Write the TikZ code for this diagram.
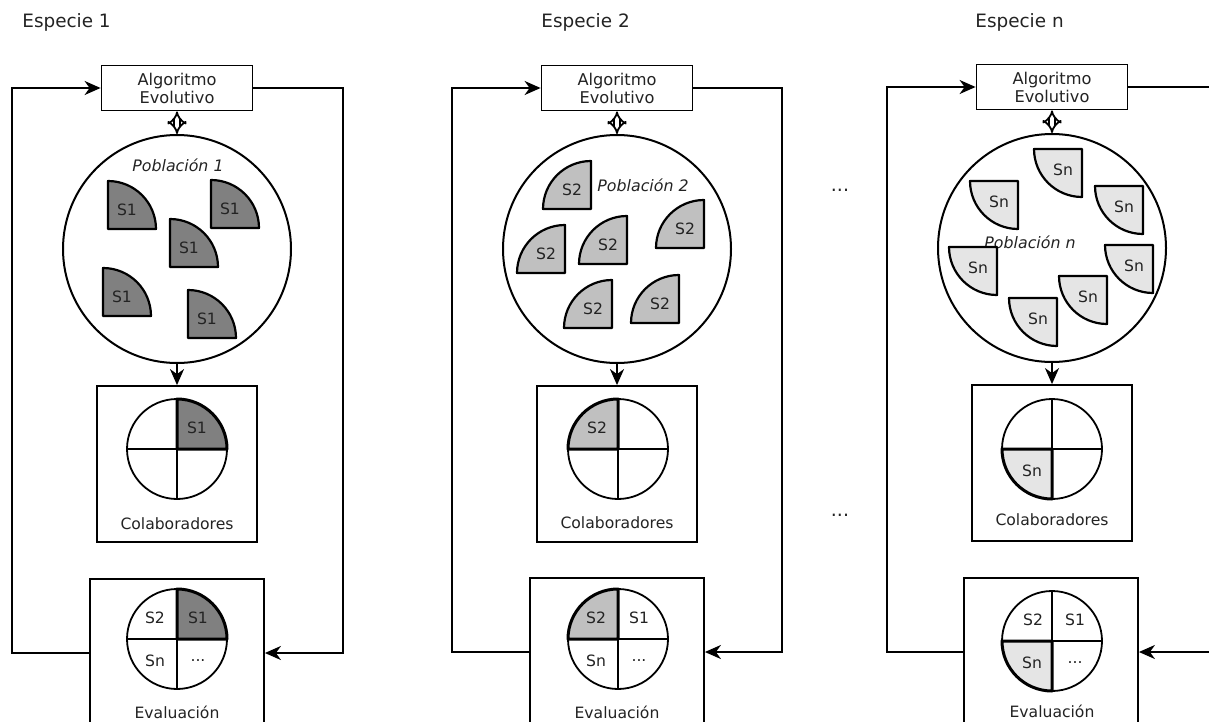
\documentclass[tikz,border=0pt]{standalone}
\usepackage{fontspec}
\setmainfont{DejaVu Sans}
\usetikzlibrary{arrows.meta,positioning}
\definecolor{cone}{RGB}{128,128,128}
\definecolor{ctwo}{RGB}{192,192,192}
\definecolor{cn}{RGB}{229,229,229}
\definecolor{txt}{RGB}{35,35,35}

\begin{document}
\begin{tikzpicture}[x=0.5pt, y=-0.5pt,
    every node/.append style={text=txt, font=\fontsize{7.8}{9}\selectfont},
    box/.style={draw, line width=0.9pt, fill=white},
    algo/.style={box, minimum width=75.5pt, minimum height=22.5pt, align=center, inner sep=0pt,
      font=\fontsize{8.1}{9}\selectfont},
    pop/.style={draw, circle, line width=1pt, minimum size=114pt, inner sep=0pt},
    colab/.style={box, minimum width=80pt, minimum height=78pt},
    evalbox/.style={box, minimum width=87pt, minimum height=74pt},
    poplbl/.style={font=\fontsize{7.9}{9}\itshape},
    pie/.style={draw, line width=0.9pt},
    sec/.style={draw, line width=1.1pt, line join=round},
    hl/.style={draw, line width=1.5pt, line join=round},
    flow/.style={-{Stealth[length=8pt, width=7pt, inset=2.5pt]}, line width=1pt},
    dbl/.style={{Implies[length=3.5pt, width=7.5pt]}-{Implies[length=3.5pt, width=7.5pt]},
      double, double distance=2.4pt, line width=0.9pt},
    title/.style={anchor=base west, inner sep=0pt, font=\fontsize{9.2}{11}\selectfont}
  ]
  \useasboundingbox (0,0) rectangle (1209,722);
  \clip (0,0) rectangle (1209,722);

  \node[title] (sp1) at (22,28) {Especie 1};
  \node[title] (sp2) at (541,28) {Especie 2};
  \node[title] (spn) at (975,28) {Especie n};

  % Especie 1
  \node[algo] (al1) at (177,88) {Algoritmo\\Evolutivo};
  \node[pop] (pop1) at (177,249) {};
  \node[colab] (co1) at (177,464) {};
  \node[evalbox] (ev1) at (177,653) {};
  \node[poplbl] (pl1) at (178,165) {Población 1};
  \filldraw[sec, fill=cone] (108,229) -- ++(0,-48) arc[start angle=-90, end angle=0, radius=48] -- cycle;
  \filldraw[sec, fill=cone] (211,228) -- ++(0,-48) arc[start angle=-90, end angle=0, radius=48] -- cycle;
  \filldraw[sec, fill=cone] (170,267) -- ++(0,-48) arc[start angle=-90, end angle=0, radius=48] -- cycle;
  \filldraw[sec, fill=cone] (103,316) -- ++(0,-48) arc[start angle=-90, end angle=0, radius=48] -- cycle;
  \filldraw[sec, fill=cone] (188,338) -- ++(0,-48) arc[start angle=-90, end angle=0, radius=48] -- cycle;
  \node (s1a) at (127,210) {S1};
  \node (s1b) at (230,209) {S1};
  \node (s1c) at (189,248) {S1};
  \node (s1d) at (122,297) {S1};
  \node (s1e) at (207,319) {S1};
  % colaboradores 1
  \draw[pie] (177,449) circle[radius=50] (127,449) -- (227,449) (177,399) -- (177,499);
  \filldraw[hl, fill=cone] (177,449) -- ++(0,-50) arc[start angle=-90, end angle=0, radius=50] -- cycle;
  \node (c1q) at (197,428) {S1};
  \node (cl1) at (177,524) {Colaboradores};
  % evaluacion 1
  \draw[pie] (177,639) circle[radius=50] (127,639) -- (227,639) (177,589) -- (177,689);
  \filldraw[hl, fill=cone] (177,639) -- ++(0,-50) arc[start angle=-90, end angle=0, radius=50] -- cycle;
  \node (e1a) at (155,618) {S2};
  \node (e1b) at (198,618) {S1};
  \node (e1c) at (155,661) {Sn};
  \node (e1d) at (198,661) {...};
  \node (el1) at (177,712) {Evaluación};

  \draw[dbl] (al1) -- (pop1);
  \draw[flow] (pop1) -- (co1);
  \draw[flow] (ev1.west) -- (12,653) |- (al1.west);
  \draw[flow] (al1.east) -| (343,653) -- (ev1.east);

  % Especie 2
  \node[algo] (al2) at (617,88) {Algoritmo\\Evolutivo};
  \node[pop] (pop2) at (617,249) {};
  \node[colab] (co2) at (617,464) {};
  \node[evalbox] (ev2) at (617,652) {};
  \node[poplbl] (pl2) at (643,185) {Población 2};
  \filldraw[sec, fill=ctwo] (591,209) -- ++(-48,0) arc[start angle=180, end angle=270, radius=48] -- cycle;
  \filldraw[sec, fill=ctwo] (565,273) -- ++(-48,0) arc[start angle=180, end angle=270, radius=48] -- cycle;
  \filldraw[sec, fill=ctwo] (627,264) -- ++(-48,0) arc[start angle=180, end angle=270, radius=48] -- cycle;
  \filldraw[sec, fill=ctwo] (704,248) -- ++(-48,0) arc[start angle=180, end angle=270, radius=48] -- cycle;
  \filldraw[sec, fill=ctwo] (612,328) -- ++(-48,0) arc[start angle=180, end angle=270, radius=48] -- cycle;
  \filldraw[sec, fill=ctwo] (679,323) -- ++(-48,0) arc[start angle=180, end angle=270, radius=48] -- cycle;
  \node (s2a) at (572,190) {S2};
  \node (s2b) at (546,254) {S2};
  \node (s2c) at (608,245) {S2};
  \node (s2d) at (685,229) {S2};
  \node (s2e) at (593,309) {S2};
  \node (s2f) at (660,304) {S2};
  % colaboradores 2
  \draw[pie] (618,449) circle[radius=50] (568,449) -- (668,449) (618,399) -- (618,499);
  \filldraw[hl, fill=ctwo] (618,449) -- ++(-50,0) arc[start angle=180, end angle=270, radius=50] -- cycle;
  \node (c2q) at (597,428) {S2};
  \node (cl2) at (617,523) {Colaboradores};
  % evaluacion 2
  \draw[pie] (618,639) circle[radius=50] (568,639) -- (668,639) (618,589) -- (618,689);
  \filldraw[hl, fill=ctwo] (618,639) -- ++(-50,0) arc[start angle=180, end angle=270, radius=50] -- cycle;
  \node (e2a) at (596,618) {S2};
  \node (e2b) at (639,618) {S1};
  \node (e2c) at (596,661) {Sn};
  \node (e2d) at (639,661) {...};
  \node (el2) at (617,712) {Evaluación};

  \draw[dbl] (al2) -- (pop2);
  \draw[flow] (pop2) -- (co2);
  \draw[flow] (ev2.west) -- (452,652) |- (al2.west);
  \draw[flow] (al2.east) -| (782,652) -- (ev2.east);

  \node[font=\fontsize{9.5}{10}\selectfont] (dotsa) at (840,190) {...};
  \node[font=\fontsize{9.5}{10}\selectfont] (dotsb) at (840,515) {...};

  % Especie n
  \node[algo] (al3) at (1052,87) {Algoritmo\\Evolutivo};
  \node[pop] (pop3) at (1052,248) {};
  \node[colab] (co3) at (1052,463) {};
  \node[evalbox] (ev3) at (1051,652) {};
  \node[poplbl] (pl3) at (1030,242) {Población n};
  \filldraw[sec, fill=cn] (1082,149) -- ++(-48,0) arc[start angle=180, end angle=90, radius=48] -- cycle;
  \filldraw[sec, fill=cn] (1018,181) -- ++(-48,0) arc[start angle=180, end angle=90, radius=48] -- cycle;
  \filldraw[sec, fill=cn] (1143,186) -- ++(-48,0) arc[start angle=180, end angle=90, radius=48] -- cycle;
  \filldraw[sec, fill=cn] (997,247) -- ++(-48,0) arc[start angle=180, end angle=90, radius=48] -- cycle;
  \filldraw[sec, fill=cn] (1153,245) -- ++(-48,0) arc[start angle=180, end angle=90, radius=48] -- cycle;
  \filldraw[sec, fill=cn] (1107,276) -- ++(-48,0) arc[start angle=180, end angle=90, radius=48] -- cycle;
  \filldraw[sec, fill=cn] (1057,298) -- ++(-48,0) arc[start angle=180, end angle=90, radius=48] -- cycle;
  \node (sna) at (1063,170) {Sn};
  \node (snb) at (999,202) {Sn};
  \node (snc) at (1124,207) {Sn};
  \node (snd) at (978,268) {Sn};
  \node (sne) at (1134,266) {Sn};
  \node (snf) at (1088,297) {Sn};
  \node (sng) at (1038,319) {Sn};
  % colaboradores n
  \draw[pie] (1052,449) circle[radius=50] (1002,449) -- (1102,449) (1052,399) -- (1052,499);
  \filldraw[hl, fill=cn] (1052,449) -- ++(-50,0) arc[start angle=180, end angle=90, radius=50] -- cycle;
  \node (c3q) at (1032,471) {Sn};
  \node (cl3) at (1052,520) {Colaboradores};
  % evaluacion n
  \draw[pie] (1052,641) circle[radius=50] (1002,641) -- (1102,641) (1052,591) -- (1052,691);
  \filldraw[hl, fill=cn] (1052,641) -- ++(-50,0) arc[start angle=180, end angle=90, radius=50] -- cycle;
  \node (e3a) at (1033,620) {S2};
  \node (e3b) at (1075,620) {S1};
  \node (e3c) at (1032,663) {Sn};
  \node (e3d) at (1075,663) {...};
  \node (el3) at (1052,711) {Evaluación};

  \coordinate (edgeT) at (1209,87);
  \coordinate (edgeB) at (1209,652);
  \draw[dbl] (al3) -- (pop3);
  \draw[flow] (pop3) -- (co3);
  \draw[flow] (ev3.west) -- (887,652) |- (al3.west);
  \draw[line width=1pt] (al3.east) -- (edgeT);
  \draw[flow] (edgeB) -- (ev3.east);
\end{tikzpicture}
\end{document}
